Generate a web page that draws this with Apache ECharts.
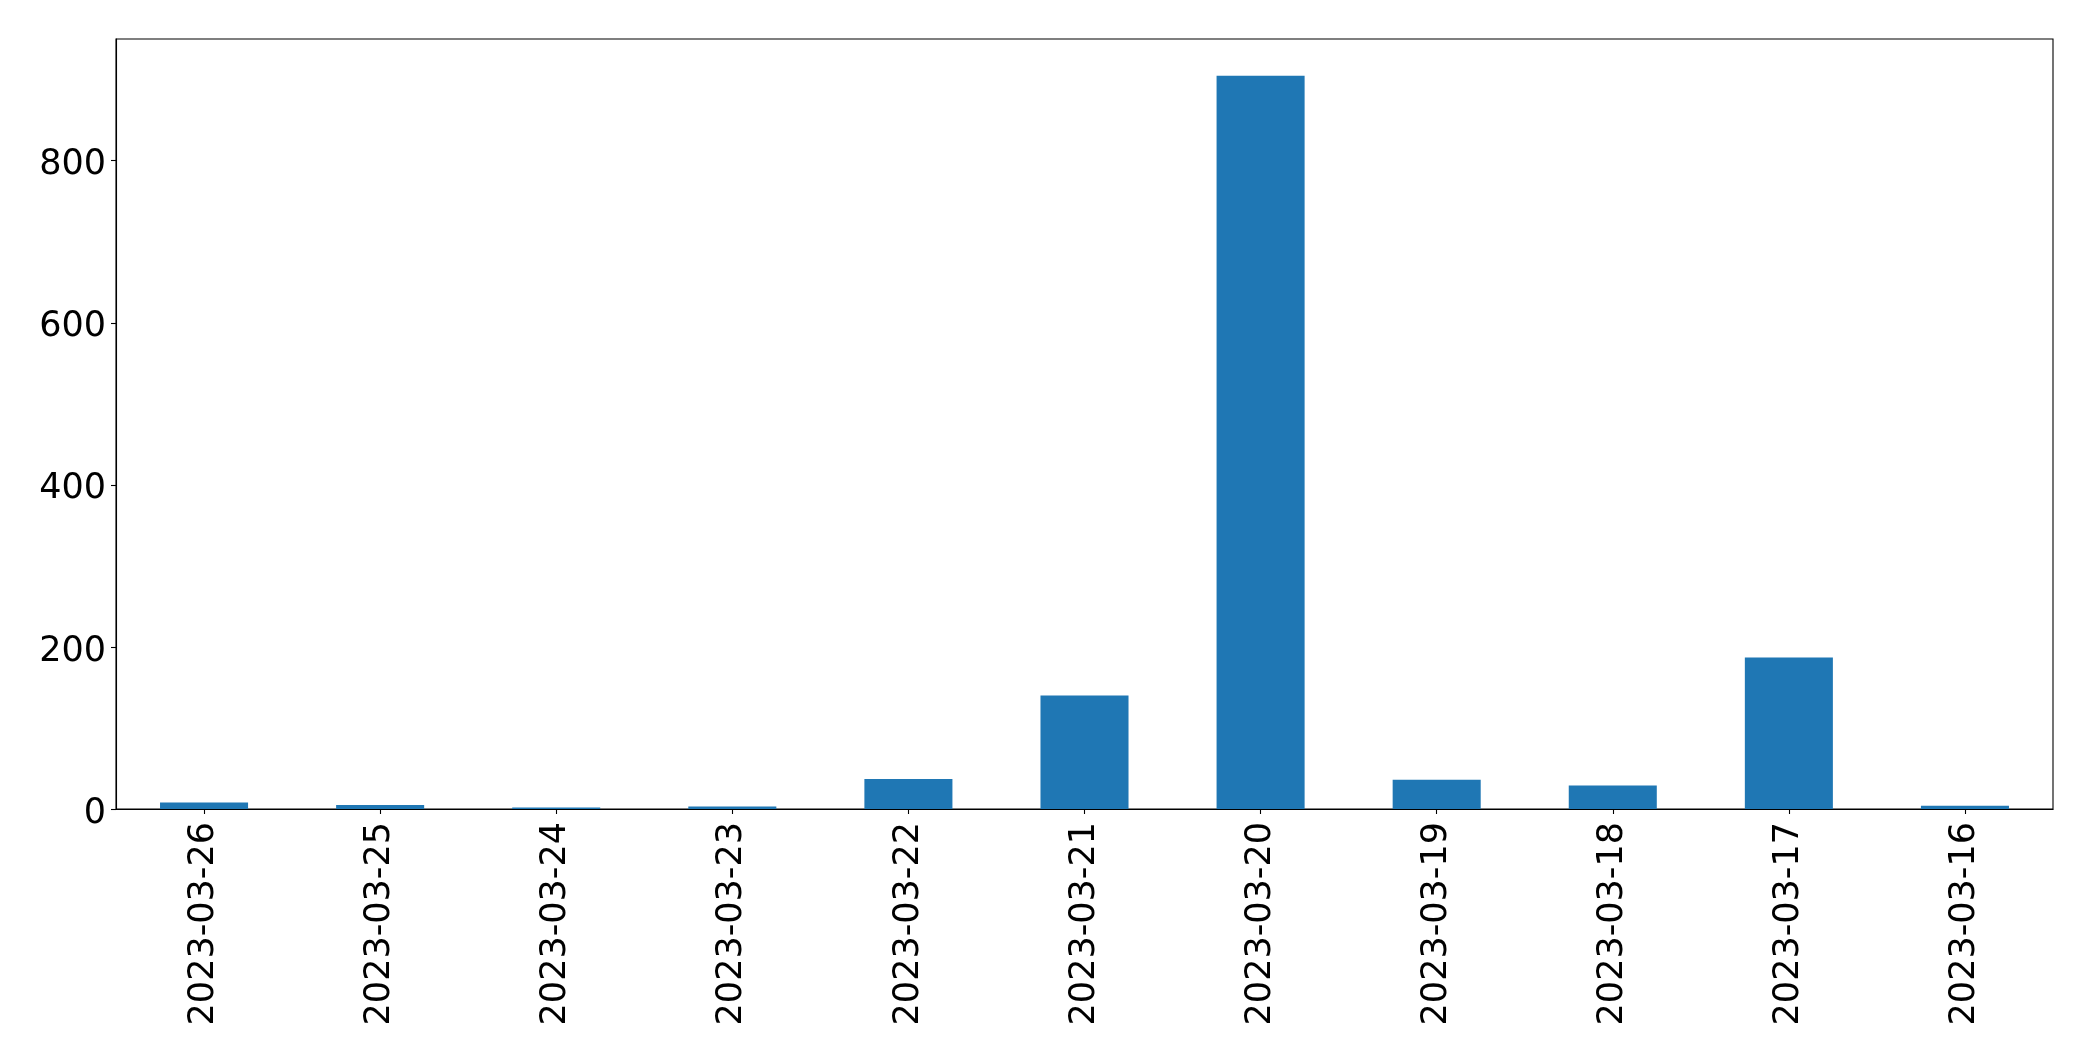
<!DOCTYPE html>
<html>
<head>
<meta charset="utf-8">
<script src="https://cdn.jsdelivr.net/npm/echarts@6/dist/echarts.min.js"></script>
<style>
html,body{margin:0;padding:0;background:#fff;}
#chart{width:2093px;height:1061px;}
</style>
</head>
<body>
<div id="chart"></div>
<script>
const categories = ['2023-03-26','2023-03-25','2023-03-24','2023-03-23','2023-03-22','2023-03-21','2023-03-20','2023-03-19','2023-03-18','2023-03-17','2023-03-16'];
const values = [8, 5, 2, 3, 37, 140, 905, 36, 29, 187, 4];
const yTicks = [0, 200, 400, 600, 800];

const chart = echarts.init(document.getElementById('chart'));
const font = 'DejaVu Sans';
chart.setOption({
  animation: false,
  backgroundColor: '#ffffff',
  grid: {
    left: 116, right: 40, top: 39, bottom: 252,
    show: true, borderColor: '#000', borderWidth: 1.1, backgroundColor: 'transparent'
  },
  xAxis: {
    type: 'category',
    data: categories,
    boundaryGap: true,
    axisLine: {show: true, lineStyle: {color: '#000', width: 1.1}},
    axisTick: {show: true, alignWithLabel: true, length: 5, lineStyle: {color: '#000', width: 1.1}},
    axisLabel: {rotate: 90, margin: 13, color: '#000', fontFamily: font, fontSize: 35, interval: 0},
    splitLine: {show: false}
  },
  yAxis: {
    type: 'value',
    min: 0, max: 950.25, interval: 200,
    axisLine: {show: true, lineStyle: {color: '#000', width: 1.1}},
    axisTick: {show: true, length: 5, customValues: yTicks, lineStyle: {color: '#000', width: 1.1}},
    axisLabel: {
      margin: 10, color: '#000', fontFamily: font, fontSize: 35,
      customValues: yTicks,
      formatter: function (v) { return '{v|' + v + '}'; },
      rich: {v: {fontFamily: font, fontSize: 35, color: '#000', padding: [9, 0, 0, 0]}}
    },
    splitLine: {show: false}
  },
  series: [{
    type: 'bar',
    data: values,
    barWidth: '50%',
    itemStyle: {color: '#1f77b4'}
  }]
});
</script>
</body>
</html>
